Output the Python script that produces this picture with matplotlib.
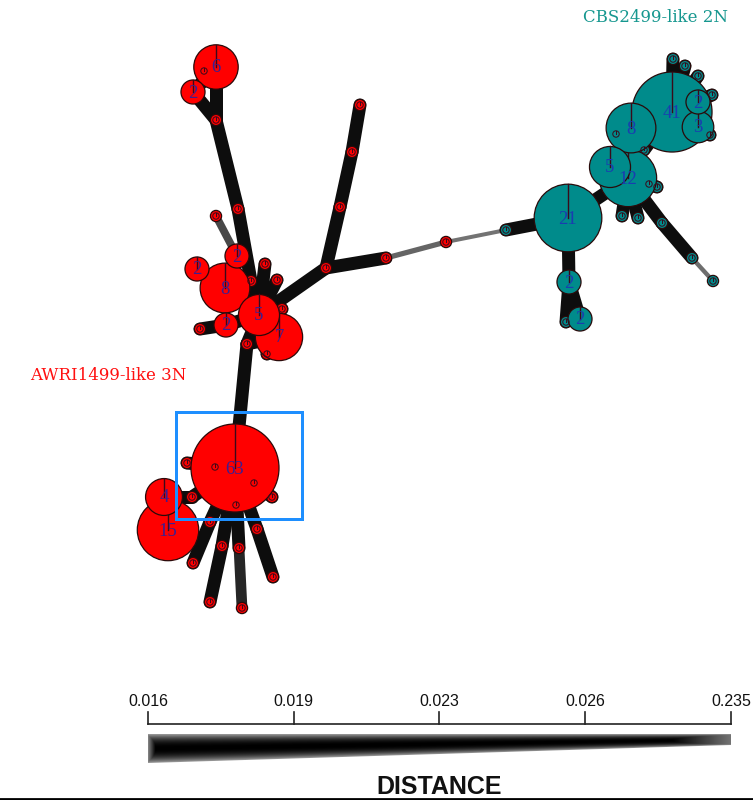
import numpy as np
import matplotlib
matplotlib.use("Agg")
from matplotlib import pyplot as plt
from matplotlib.patches import Circle, Polygon, Rectangle

# node layout (pixel-like units), haplotype counts and group
node_x = [216, 193, 216, 238, 216, 360, 352, 340, 326, 386, 446,
          237, 197, 225, 259, 279, 226, 265, 277, 251, 282, 200, 247, 267,
          235, 164, 168, 187, 272, 192, 210, 193, 222, 210, 239, 242, 257, 273,
          215, 254, 236, 204,
          506, 568, 569, 580, 566, 628, 610, 631, 672, 698, 698, 673, 685, 698,
          712, 710, 644, 616, 649, 657, 622, 638, 662, 692, 713]
node_y = [67, 92, 120, 209, 216, 105, 152, 207, 268, 258, 242,
          256, 269, 288, 315, 337, 325, 264, 280, 281, 309, 329, 344, 354,
          468, 497, 530, 463, 497, 497, 522, 563, 546, 602, 548, 608, 529, 577,
          467, 483, 505, 71,
          230, 218, 282, 319, 322, 178, 167, 128, 112, 102, 127, 59, 66, 76,
          95, 135, 150, 134, 184, 187, 216, 218, 223, 258, 281]
node_n = [6, 2, 1, 1, 1, 1, 1, 1, 1, 1, 1,
          2, 2, 8, 5, 7, 2, 1, 1, 1, 1, 1, 1, 1,
          63, 4, 15, 1, 1, 1, 1, 1, 1, 1, 1, 1, 1, 1,
          1, 1, 1, 1,
          1, 21, 2, 2, 1, 12, 5, 8, 41, 2, 3, 1, 1, 1,
          1, 1, 1, 1, 1, 1, 1, 1, 1, 1, 1]
node_grp = ["A"] * 42 + ["C"] * 25

# edges: (from, to, genetic distance)
edges = [(0, 1, 0.016), (1, 2, 0.016), (0, 2, 0.016), (2, 3, 0.016), (3, 19, 0.016),
         (4, 11, 0.024), (5, 6, 0.016), (6, 7, 0.016), (7, 8, 0.016), (8, 9, 0.016),
         (9, 10, 0.12), (10, 42, 0.235), (42, 43, 0.016), (8, 14, 0.016),
         (11, 13, 0.016), (12, 13, 0.016), (13, 14, 0.016), (14, 15, 0.016),
         (16, 14, 0.016), (16, 21, 0.016), (17, 14, 0.016), (18, 14, 0.016),
         (19, 14, 0.016), (20, 14, 0.016), (22, 15, 0.016), (23, 15, 0.016),
         (14, 22, 0.016), (22, 24, 0.016),
         (24, 27, 0.016), (24, 28, 0.016), (24, 29, 0.016), (29, 25, 0.016),
         (25, 26, 0.016), (24, 30, 0.016), (30, 31, 0.016), (24, 32, 0.016),
         (32, 33, 0.016), (24, 34, 0.016), (34, 35, 0.019), (24, 36, 0.016),
         (36, 37, 0.016), (24, 38, 0.016), (24, 39, 0.016), (24, 40, 0.016),
         (0, 41, 0.016),
         (43, 47, 0.016), (43, 44, 0.016), (44, 45, 0.016), (44, 46, 0.016),
         (47, 48, 0.016), (47, 49, 0.016), (49, 50, 0.016), (50, 51, 0.016),
         (50, 52, 0.016), (50, 53, 0.016), (50, 54, 0.016), (50, 55, 0.016),
         (50, 56, 0.016), (50, 57, 0.016), (50, 58, 0.016), (49, 59, 0.016),
         (47, 60, 0.016), (47, 61, 0.016), (47, 62, 0.016), (47, 63, 0.016),
         (47, 64, 0.016), (64, 65, 0.016), (65, 66, 0.2)]

scale_ticks = [0.016, 0.019, 0.023, 0.026, 0.235]
scale_labels = ["0.016", "0.019", "0.023", "0.026", "0.235"]

group_fill = {"A": "#ff0000", "C": "#008b8b"}
group_text = {"A": "#3d1e90", "C": "#1a3db0"}

fig = plt.figure(figsize=(7.53, 8.0), dpi=100)
ax = fig.add_axes([0, 0, 1, 1])
ax.set_xlim(0, 753)
ax.set_ylim(800, 0)
ax.set_aspect("equal")
ax.axis("off")
px = 72 / 100  # points per pixel

# edges
for a, b, d in edges:
    t = np.interp(d, scale_ticks, np.linspace(0, 1, len(scale_ticks)))
    w = (13 - 9 * t) * px
    g = 0.05 + 0.4 * t
    ax.plot([node_x[a], node_x[b]], [node_y[a], node_y[b]], color=(g, g, g),
            lw=w, solid_capstyle="round", zorder=1)

# nodes: singletons first, then larger ones, biggest at the bottom
order = sorted(range(len(node_n)), key=lambda i: (node_n[i] > 1, -node_n[i]))
for k, i in enumerate(order):
    n = node_n[i]
    r = 5.6 + 9.27 * np.log(n)
    x, y = node_x[i], node_y[i]
    z = 2 + k * 0.001
    ax.add_patch(Circle((x, y), r, facecolor=group_fill[node_grp[i]],
                        edgecolor="#2a0a0a", lw=0.9, zorder=z))
    if n > 1:
        ax.plot([x, x], [y, y - r], color="#3a0a1a", lw=1.0, zorder=z)

# labels and singleton marks on top of all circles
for i in range(len(node_n)):
    n = node_n[i]
    x, y = node_x[i], node_y[i]
    if n > 1:
        ax.text(x, y + 1, str(n), ha="center", va="center", fontsize=13.5,
                family="Liberation Serif", color=group_text[node_grp[i]], zorder=4)
    else:
        ax.add_patch(Circle((x, y), 3.2, facecolor="none",
                            edgecolor="#3a0a1a", lw=0.7, zorder=4))
        ax.plot([x, x], [y, y - 3.2], color="#3a0a1a", lw=0.7, zorder=4)

ax.add_patch(Rectangle((176, 412), 126, 107, fill=False, edgecolor="#1e8fff",
                       lw=3 * px, zorder=10))

ax.text(656, 17, "CBS2499-like 2N", ha="center", va="center", fontsize=12,
        family="DejaVu Serif", color="#16978f")
ax.text(108, 375, "AWRI1499-like 3N", ha="center", va="center", fontsize=12,
        family="DejaVu Serif", color="#ff1010")

# distance scale
x0, x1 = 148, 731
tick_x = np.linspace(x0, x1, len(scale_ticks))
ax.plot([x0, x1], [724, 724], color="#222222", lw=1.2, zorder=5)
for tx, lab in zip(tick_x, scale_labels):
    ax.plot([tx, tx], [724, 712], color="#222222", lw=1.2, zorder=5)
    ax.text(tx, 702, lab, ha="center", va="center", fontsize=11.5,
            family="Liberation Sans", color="#111111")

top, bot0, bot1 = 734, 763, 745
wedge = Polygon([(x0, top), (x1, top), (x1, bot1), (x0, bot0)], closed=True,
                facecolor="none", edgecolor="none")
ax.add_patch(wedge)
gx = np.linspace(0, 1, 600)
gy = np.linspace(top, bot0, 120)
GX, GY = np.meshgrid(gx, gy)
local_bot = bot0 + (bot1 - bot0) * GX
V = np.clip((GY - top) / (local_bot - top), 0, 1)
img = 0.62 * np.abs(2 * V - 1) ** 2.2
img = np.maximum(img, 0.45 * np.clip((GX - 0.9) / 0.1, 0, 1))
img = np.maximum(img, 0.5 * np.clip(1 - GX / 0.012, 0, 1))
im = ax.imshow(img, cmap="gray", vmin=0, vmax=1, extent=(x0, x1, bot0, top),
               aspect="auto", interpolation="bilinear", zorder=4)
im.set_clip_path(wedge)

ax.text(439, 787, "DISTANCE", ha="center", va="center", fontsize=18,
        fontweight="bold", family="Liberation Sans", color="#111111")
ax.plot([0, 753], [799, 799], color="black", lw=2, zorder=5)

plt.savefig("out.png", dpi=100)
